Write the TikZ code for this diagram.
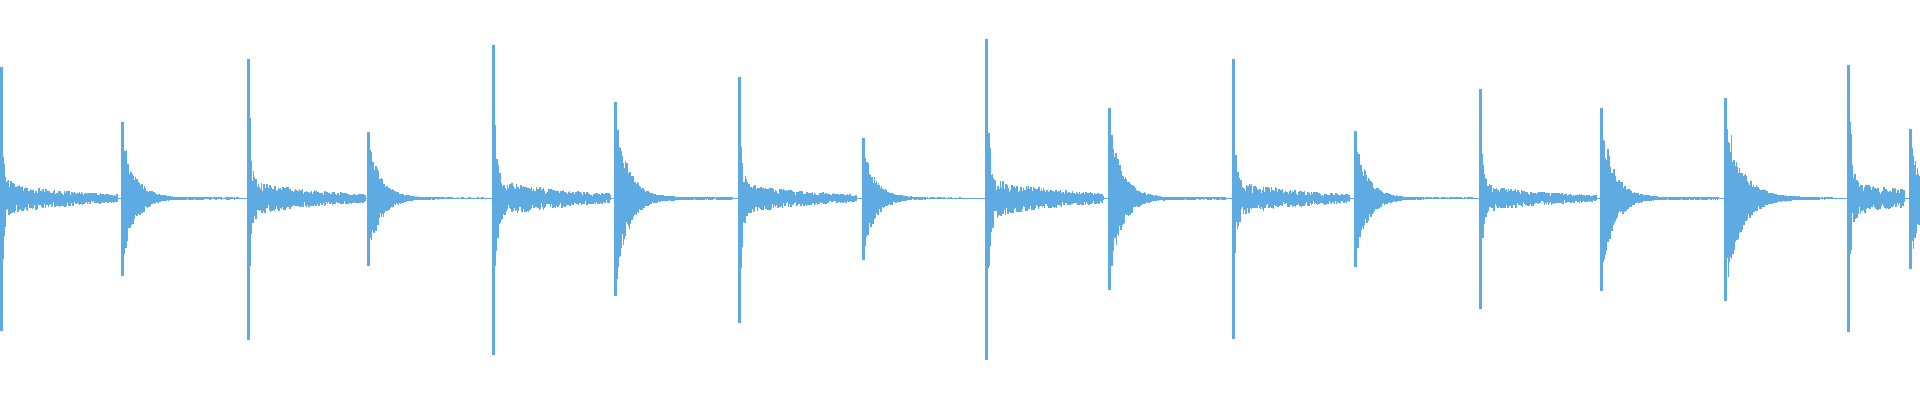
\documentclass[tikz,border=0pt]{standalone}
\definecolor{wave}{RGB}{93,171,226}
\begin{document}
\begin{tikzpicture}[x=0.01cm,y=-0.01cm,wv/.style={draw=wave,line width=0.35pt}]
\useasboundingbox (0,0) rectangle (1568,327);
\pgfmathsetseed{7}
\draw[wv] (0,162) -- (1568,162);
% x/top/bottom/type/length ; type 1 = kick-like, 2 = snare-like
\foreach \x/\tp/\bt/\ty/\len in {
1/55/270/1/95, 100/100/225/2/95, 203/48/278/1/95, 301/108/217/2/95,
403/37/290/1/95, 503/83/242/2/95, 604/63/264/1/95, 705/113/212/2/95,
806/32/294/1/95, 906/88/237/2/95, 1007/48/277/1/95, 1107/107/218/2/95,
1209/73/252/1/95, 1308/88/238/2/95, 1409/80/246/3/95, 1510/53/271/1/45,
1560/105/220/2/7}{
  \pgfmathsetmacro\up{162-\tp}
  \pgfmathsetmacro\dn{\bt-162}
  \draw[wv,line width=0.7pt] (\x,\tp) -- (\x,\bt);
  \foreach \t in {0.5,1.0,...,\len}{
    \ifcase\ty\or
      \pgfmathsetmacro\e{0.8*exp(-\t/2.0)+0.13*exp(-\t/70)}
      \pgfmathsetmacro\lo{0.3}
    \or
      \pgfmathsetmacro\e{0.9*exp(-\t/10)+0.015}
      \pgfmathsetmacro\lo{0.55}
    \or
      \pgfmathsetmacro\e{0.9*exp(-\t/12)+0.04*exp(-\t/60)}
      \pgfmathsetmacro\lo{0.55}
    \fi
    \pgfmathsetmacro\ra{\e*\up*(\lo+(1-\lo)*rnd)}
    \pgfmathsetmacro\rb{\e*\dn*(\lo+(1-\lo)*rnd)}
    \draw[wv] (\x+\t,162-\ra) -- (\x+\t,162+\rb);
  }
}
\end{tikzpicture}
\end{document}
